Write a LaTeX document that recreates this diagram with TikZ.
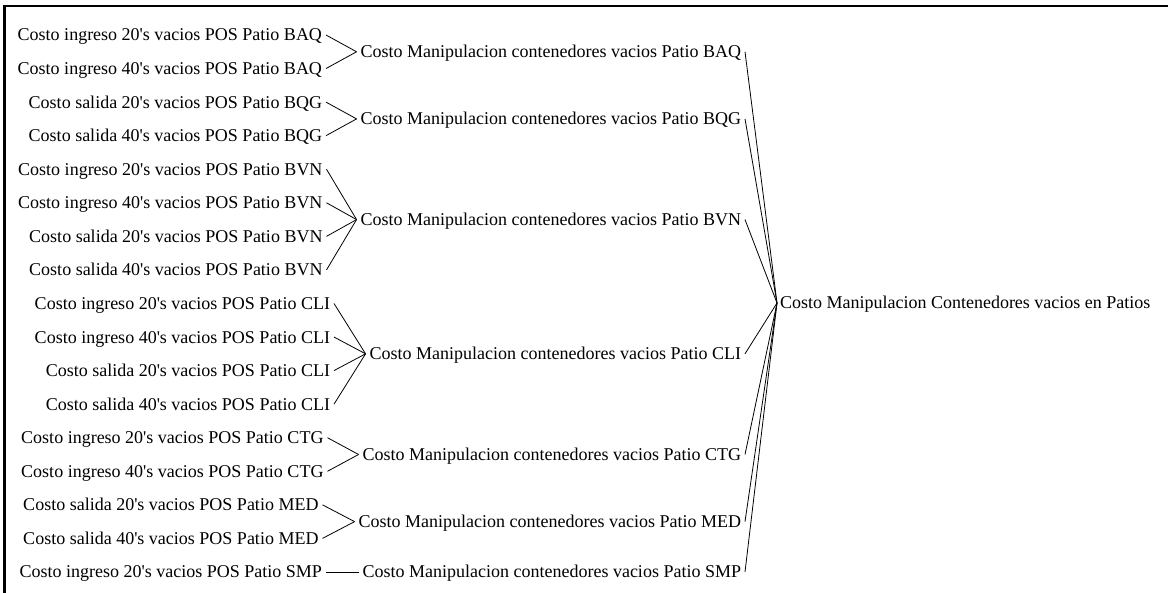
\documentclass[tikz,border=0pt]{standalone}
\usepackage{fontspec}
\setmainfont{Liberation Serif}
\newcommand\apo{\textquotesingle}
\begin{document}
\begin{tikzpicture}[x=1bp,y=-1bp,
  lbl/.style={inner sep=0pt, outer xsep=4bp, outer ysep=0pt,
    font=\fontsize{18bp}{20bp}\selectfont, text height=13bp, text depth=1bp},
  cause/.style={lbl, anchor=east},
  mid/.style={lbl, anchor=east},
  top/.style={lbl, anchor=west, outer xsep=3bp},
  link/.style={line width=0.8bp}]
\useasboundingbox (0,0) rectangle (1168,593);
% frame (left and top edges)
\draw[line width=2.2bp] (4.5,593) -- (4.5,6.2) -- (1168,6.2);

% causes
\node[cause] (a1)  at (326,35.00)   {Costo ingreso 20\apo s vacios POS Patio BAQ};
\node[cause] (a2)  at (326,68.56)   {Costo ingreso 40\apo s vacios POS Patio BAQ};
\node[cause] (a3)  at (326,102.12)  {Costo salida 20\apo s vacios POS Patio BQG};
\node[cause] (a4)  at (326,135.68)  {Costo salida 40\apo s vacios POS Patio BQG};
\node[cause] (a5)  at (326.5,169.24) {Costo ingreso 20\apo s vacios POS Patio BVN};
\node[cause] (a6)  at (326.5,202.80) {Costo ingreso 40\apo s vacios POS Patio BVN};
\node[cause] (a7)  at (326.5,236.36) {Costo salida 20\apo s vacios POS Patio BVN};
\node[cause] (a8)  at (326.5,269.92) {Costo salida 40\apo s vacios POS Patio BVN};
\node[cause] (a9)  at (334,303.48)  {Costo ingreso 20\apo s vacios POS Patio CLI};
\node[cause] (a10) at (334,337.04)  {Costo ingreso 40\apo s vacios POS Patio CLI};
\node[cause] (a11) at (334,370.60)  {Costo salida 20\apo s vacios POS Patio CLI};
\node[cause] (a12) at (334,404.16)  {Costo salida 40\apo s vacios POS Patio CLI};
\node[cause] (a13) at (327.5,437.72) {Costo ingreso 20\apo s vacios POS Patio CTG};
\node[cause] (a14) at (327.5,471.28) {Costo ingreso 40\apo s vacios POS Patio CTG};
\node[cause] (a15) at (322.5,504.84) {Costo salida 20\apo s vacios POS Patio MED};
\node[cause] (a16) at (322.5,538.40) {Costo salida 40\apo s vacios POS Patio MED};
\node[cause] (a17) at (326,571.96)  {Costo ingreso 20\apo s vacios POS Patio SMP};

% intermediate variables
\node[mid] (m1) at (745,51.78)  {Costo Manipulacion contenedores vacios Patio BAQ};
\node[mid] (m2) at (745,118.90) {Costo Manipulacion contenedores vacios Patio BQG};
\node[mid] (m3) at (745,219.58) {Costo Manipulacion contenedores vacios Patio BVN};
\node[mid] (m4) at (745,353.82) {Costo Manipulacion contenedores vacios Patio CLI};
\node[mid] (m5) at (745,454.50) {Costo Manipulacion contenedores vacios Patio CTG};
\node[mid] (m6) at (745,521.62) {Costo Manipulacion contenedores vacios Patio MED};
\node[mid] (m7) at (745,571.96) {Costo Manipulacion contenedores vacios Patio SMP};

% total
\node[top] (fin) at (777,303) {Costo Manipulacion Contenedores vacios en Patios};

% connectors
\foreach \s/\t in {a1/m1,a2/m1,a3/m2,a4/m2,a5/m3,a6/m3,a7/m3,a8/m3,
                   a9/m4,a10/m4,a11/m4,a12/m4,a13/m5,a14/m5,a15/m6,a16/m6,a17/m7}
  \draw[link] (\s.east) -- (\t.west);
\foreach \s in {m1,m2,m3,m4,m5,m6,m7}
  \draw[link] (\s.east) -- (fin.west);
\end{tikzpicture}
\end{document}
